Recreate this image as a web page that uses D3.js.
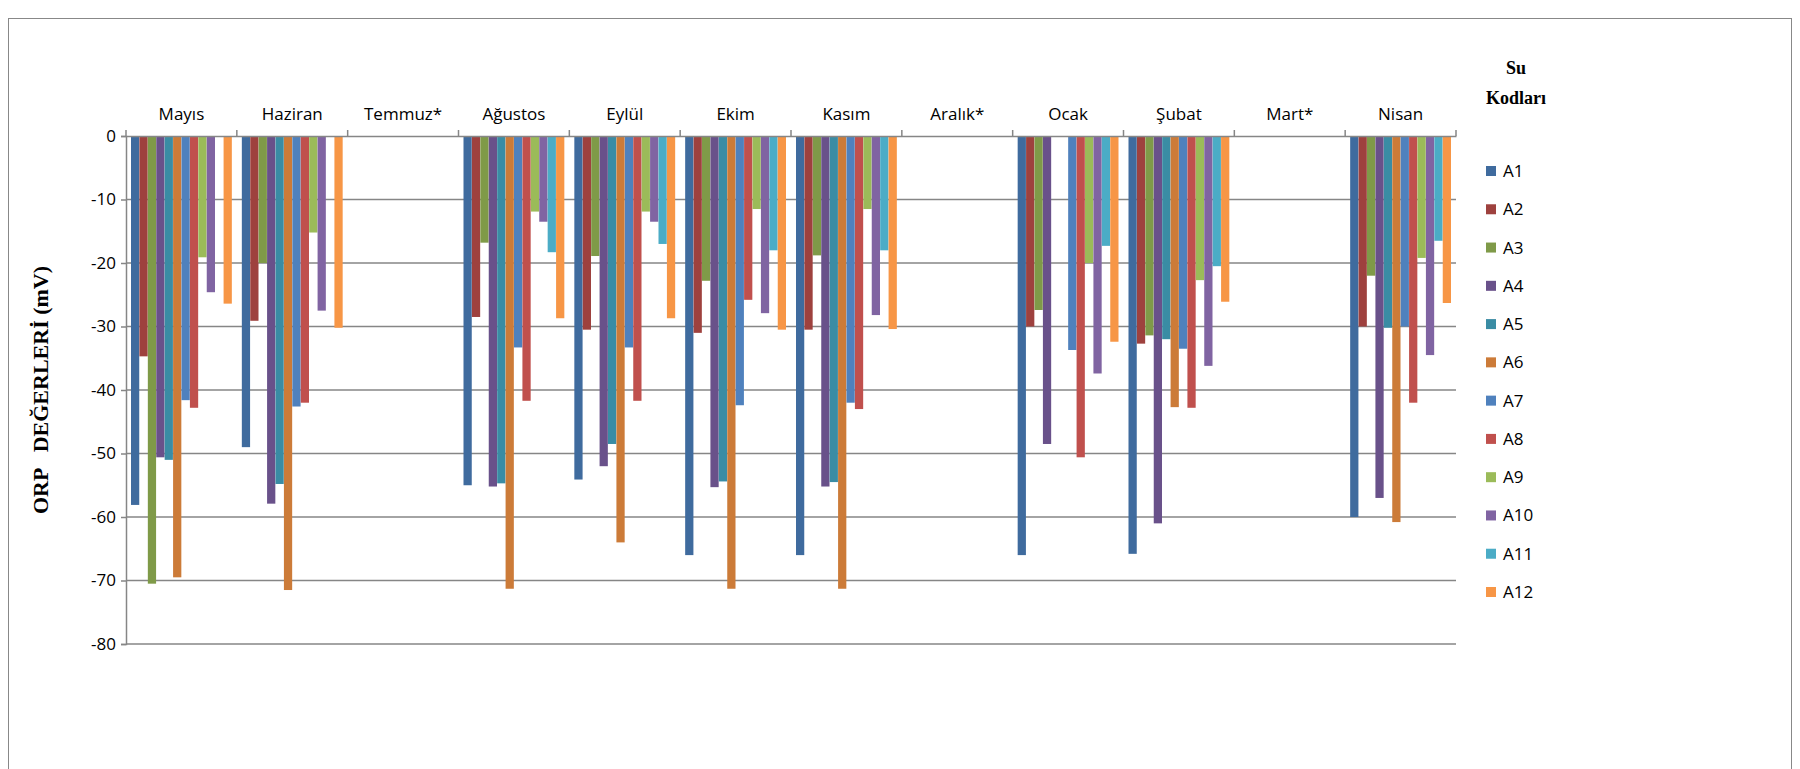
<!DOCTYPE html>
<html><head><meta charset="utf-8">
<script src="https://cdn.jsdelivr.net/npm/d3@7"></script>
<style>body{margin:0;background:#fff}svg{display:block}</style>
</head><body>
<script>
// months, series codes and ORP values (mV)
const months = ["Mayıs","Haziran","Temmuz*","Ağustos","Eylül","Ekim","Kasım","Aralık*","Ocak","Şubat","Mart*","Nisan"];
const codes = ["A1","A2","A3","A4","A5","A6","A7","A8","A9","A10","A11","A12"];
const colors = ["#3F6B9E","#9E413E","#7F9A48","#69518A","#3A8CA4","#CC7B38","#4F81BD","#C0504D","#9BBB59","#8064A2","#4BACC6","#F79646"];
const values = {
  "Mayıs":   [-58.1,-34.7,-70.5,-50.6,-51,-69.5,-41.6,-42.8,-19.1,-24.6,0,-26.4],
  "Haziran": [-49,-29.1,-20,-57.9,-54.8,-71.5,-42.6,-42,-15.2,-27.5,0,-30.2],
  "Temmuz*": [],
  "Ağustos": [-55,-28.5,-16.8,-55.2,-54.7,-71.3,-33.3,-41.7,-11.9,-13.5,-18.3,-28.7],
  "Eylül":   [-54.1,-30.5,-18.9,-52,-48.5,-64,-33.3,-41.7,-11.9,-13.5,-17,-28.7],
  "Ekim":    [-66,-31,-22.8,-55.3,-54.4,-71.3,-42.4,-25.8,-11.5,-27.9,-18,-30.5],
  "Kasım":   [-66,-30.5,-18.8,-55.2,-54.5,-71.3,-42,-43,-11.5,-28.2,-18,-30.4],
  "Aralık*": [],
  "Ocak":    [-66,-30,-27.4,-48.5,0,0,-33.7,-50.6,-20,-37.4,-17.3,-32.4],
  "Şubat":   [-65.8,-32.7,-31.4,-61,-32,-42.7,-33.5,-42.8,-22.7,-36.2,-20.5,-26.1],
  "Mart*":   [],
  "Nisan":   [-60,-30,-22,-57,-30.2,-60.8,-30,-42,-19.2,-34.5,-16.5,-26.3]
};
const yTicks = [0,-10,-20,-30,-40,-50,-60,-70,-80];

const W = 1800, H = 769;
const m = {left:126, right:1456, top:136, bottom:644};
const font = "'Open Sans', 'Liberation Sans', sans-serif";
const svg = d3.select("body").append("svg").attr("width",W).attr("height",H);

svg.append("rect").attr("x",8.5).attr("y",18.5).attr("width",1783).attr("height",760)
  .attr("fill","none").attr("stroke","#888").attr("stroke-width",1);

const x = d3.scaleBand().domain(months).range([m.left,m.right]);
const xs = d3.scaleBand().domain(codes).range([5, x.bandwidth()-5]).paddingInner(0.02);
const y = d3.scaleLinear().domain([0,-80]).range([m.top,m.bottom]);

// gridlines
svg.append("g").selectAll("line").data(yTicks.slice(1)).join("line")
  .attr("x1",m.left).attr("x2",m.right).attr("y1",d=>y(d)).attr("y2",d=>y(d))
  .attr("stroke","#868686").attr("stroke-width",1.5);

// bars
const g = svg.append("g").selectAll("g").data(months).join("g")
  .attr("transform",d=>`translate(${x(d)},0)`);
g.selectAll("rect").data(mo=>values[mo].map((v,i)=>({v,c:codes[i],i}))).join("rect")
  .attr("x",d=>xs(d.c)).attr("width",xs.bandwidth())
  .attr("y",y(0)).attr("height",d=>y(d.v)-y(0))
  .attr("fill",d=>colors[d.i]);

// y axis
const ya = svg.append("g").attr("transform",`translate(${m.left},0)`)
  .call(d3.axisLeft(y).tickValues(yTicks).tickSize(5).tickFormat(d=>String(d)));
ya.select(".domain").attr("stroke","#868686").attr("stroke-width",1.5);
ya.selectAll(".tick line").attr("stroke","#868686").attr("stroke-width",1.5);
ya.selectAll("text").attr("font-family",font).attr("font-size",17).attr("fill","#000").attr("x",-10);

// top category axis
const xa = svg.append("g").attr("transform",`translate(0,${m.top})`)
  .call(d3.axisTop(x).tickSize(0).tickPadding(16));
xa.select(".domain").attr("stroke","#868686").attr("stroke-width",1.5);
xa.selectAll("text").attr("font-family",font).attr("font-size",17).attr("fill","#000");
svg.append("g").selectAll("line").data(months.map(d=>x(d)).concat([m.right])).join("line")
  .attr("x1",d=>d).attr("x2",d=>d).attr("y1",m.top-6).attr("y2",m.top)
  .attr("stroke","#868686").attr("stroke-width",1.5);

// y title
svg.append("text").attr("transform",`translate(48,${(m.top+m.bottom)/2}) rotate(-90)`)
  .attr("text-anchor","middle").attr("font-family","'Liberation Serif', serif")
  .attr("font-weight","bold").attr("font-size",22).attr("xml:space","preserve")
  .text("ORP   DEĞERLERİ (mV)");

// legend
svg.append("text").attr("x",1516).attr("y",74).attr("text-anchor","middle")
  .attr("font-family","'Liberation Serif', serif").attr("font-weight","bold").attr("font-size",18).text("Su");
svg.append("text").attr("x",1516).attr("y",104).attr("text-anchor","middle")
  .attr("font-family","'Liberation Serif', serif").attr("font-weight","bold").attr("font-size",18).text("Kodları");
const ly = d3.scalePoint().domain(codes).range([171,592]);
const li = svg.append("g").selectAll("g").data(codes).join("g")
  .attr("transform",d=>`translate(1486,${ly(d)})`);
li.append("rect").attr("x",0).attr("y",-5).attr("width",10).attr("height",10).attr("fill",(d,i)=>colors[i]);
li.append("text").attr("x",17).attr("y",6).attr("font-family",font).attr("font-size",17).text(d=>d);
</script>
</body></html>
